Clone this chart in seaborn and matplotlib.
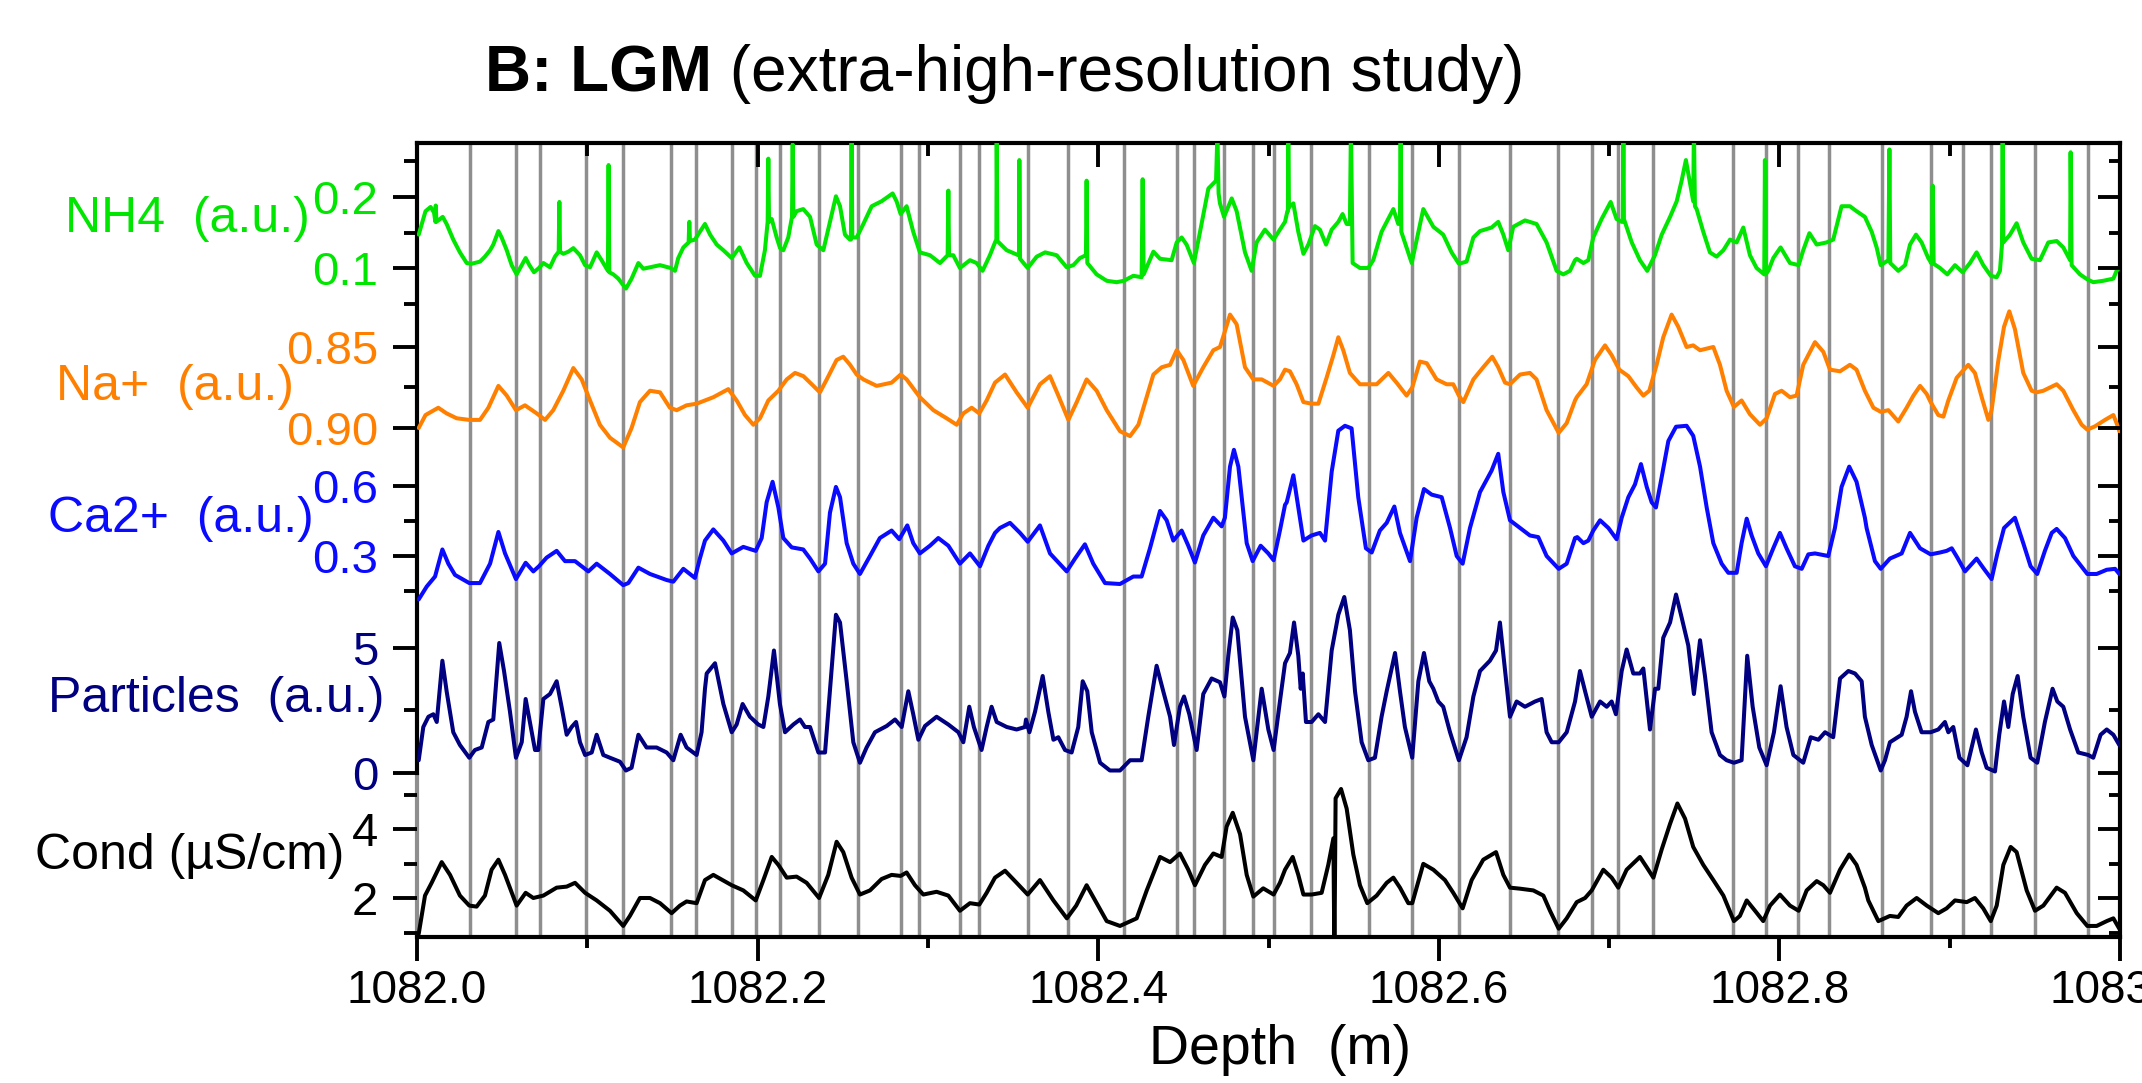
import matplotlib
matplotlib.use("Agg")
import numpy as np
import pandas as pd
import matplotlib.pyplot as plt
import seaborn as sns

# ---------------- data (depth offsets from 1082.0 m, values) ----------------
DEPTH0 = 1082.0

LAYER_MARKS = [0.031, 0.058, 0.072, 0.099, 0.121, 0.149, 0.164, 0.185, 0.199, 0.213,
               0.236, 0.259, 0.284, 0.295, 0.319, 0.330, 0.359, 0.382, 0.415, 0.446,
               0.456, 0.474, 0.491, 0.503, 0.525, 0.559, 0.584, 0.612, 0.642, 0.670,
               0.690, 0.705, 0.726, 0.773, 0.792, 0.811, 0.829, 0.860, 0.889, 0.908,
               0.924, 0.950, 0.981]

NH4 = [(0.001,0.147),(0.005,0.180),(0.008,0.186),(0.010,0.178),(0.0108,0.165),(0.0110,0.188),(0.0114,0.165),(0.0135,0.169),(0.0151,0.172),(0.0174,0.162),(0.0213,0.140),(0.0252,0.122),(0.0292,0.107),(0.0321,0.106),(0.0370,0.109),(0.0399,0.116),(0.0429,0.125),(0.0448,0.133),(0.0478,0.152),(0.0497,0.143),(0.0527,0.125),(0.0556,0.104),(0.0585,0.091),(0.0615,0.104),(0.0638,0.114),(0.0660,0.104),(0.0687,0.094),(0.0716,0.100),(0.0742,0.107),(0.0781,0.101),(0.0810,0.116),(0.0832,0.123),(0.0836,0.193),(0.0840,0.123),(0.0859,0.120),(0.0889,0.123),(0.0918,0.128),(0.0957,0.118),(0.0987,0.104),(0.1016,0.101),(0.1055,0.122),(0.1084,0.111),(0.1121,0.096),(0.1125,0.245),(0.1129,0.094),(0.1153,0.091),(0.1182,0.085),(0.1227,0.071),(0.1260,0.085),(0.1300,0.107),(0.1329,0.099),(0.1368,0.101),(0.1427,0.104),(0.1489,0.100),(0.1515,0.096),(0.1534,0.114),(0.1564,0.129),(0.1595,0.136),(0.1599,0.165),(0.1603,0.138),(0.1632,0.140),(0.1661,0.151),(0.1691,0.162),
       (0.1721,0.147),(0.1760,0.133),(0.1799,0.125),(0.1848,0.114),(0.1893,0.129),(0.1936,0.107),(0.1985,0.089),(0.2014,0.089),(0.2043,0.125),(0.2059,0.165),(0.2063,0.254),(0.2067,0.165),(0.2083,0.169),(0.2112,0.143),(0.2132,0.128),(0.2151,0.125),(0.2180,0.143),(0.2202,0.172),(0.2206,0.274),(0.2210,0.172),(0.2229,0.180),(0.2268,0.183),(0.2308,0.172),(0.2347,0.133),(0.2386,0.125),(0.2425,0.165),(0.2460,0.201),(0.2484,0.187),(0.2513,0.147),(0.2542,0.140),(0.2548,0.140),(0.2552,0.290),(0.2556,0.143),(0.2582,0.143),(0.2621,0.162),(0.2670,0.187),(0.2728,0.194),(0.2793,0.205),(0.2816,0.194),(0.2840,0.176),(0.2875,0.187),(0.2914,0.151),(0.2953,0.122),(0.3012,0.118),(0.3071,0.107),(0.3116,0.118),(0.3120,0.209),(0.3124,0.118),(0.3149,0.118),(0.3188,0.100),(0.3247,0.111),(0.3286,0.107),(0.3321,0.096),(0.3364,0.118),(0.3394,0.136),
       (0.3402,0.140),(0.3404,0.290),(0.3408,0.138),(0.3463,0.125),(0.3531,0.118),(0.3535,0.118),(0.3537,0.252),(0.3541,0.113),(0.3586,0.100),(0.3639,0.116),(0.3688,0.122),(0.3756,0.118),(0.3815,0.101),(0.3854,0.104),(0.3893,0.114),(0.3928,0.118),(0.3932,0.223),(0.3936,0.107),(0.3991,0.091),(0.4050,0.082),(0.4108,0.080),(0.4151,0.082),(0.4206,0.089),(0.4255,0.087),(0.4261,0.225),(0.4267,0.091),(0.4324,0.123),(0.4363,0.113),(0.4431,0.111),(0.4461,0.136),(0.4490,0.143),(0.4519,0.133),(0.4562,0.107),(0.4598,0.151),(0.4647,0.212),(0.4692,0.223),(0.4700,0.290),(0.4707,0.205),(0.4715,0.191),(0.4739,0.172),(0.4784,0.198),(0.4813,0.180),(0.4862,0.122),(0.4901,0.096),(0.4930,0.136),(0.4979,0.154),(0.5030,0.140),(0.5067,0.154),(0.5097,0.165),
       (0.5111,0.180),(0.5114,0.180),(0.5116,0.300),(0.5120,0.185),(0.5126,0.187),(0.5146,0.191),(0.5175,0.151),(0.5205,0.120),(0.5234,0.133),(0.5273,0.159),(0.5302,0.154),(0.5338,0.133),(0.5371,0.154),(0.5410,0.165),(0.5435,0.176),(0.5459,0.162),(0.5478,0.162),(0.5484,0.300),(0.5494,0.107),(0.5537,0.100),(0.5586,0.100),(0.5615,0.111),(0.5664,0.151),(0.5733,0.183),(0.5762,0.162),(0.5772,0.172),(0.5776,0.300),(0.5780,0.151),(0.5841,0.107),(0.5909,0.183),(0.5968,0.158),(0.6026,0.147),(0.6075,0.122),(0.6118,0.106),(0.6163,0.109),(0.6203,0.143),(0.6242,0.152),(0.6310,0.157),(0.6349,0.165),(0.6379,0.147),(0.6408,0.125),(0.6437,0.158),(0.6506,0.167),(0.6574,0.162),(0.6633,0.136),(0.6692,0.096),(0.6731,0.091),(0.6770,0.096),(0.6800,0.111),
       (0.6810,0.113),(0.6849,0.107),(0.6878,0.111),(0.6907,0.143),(0.6956,0.169),(0.7009,0.193),(0.7044,0.169),(0.7074,0.165),(0.7080,0.165),(0.7084,0.300),(0.7087,0.169),(0.7133,0.136),(0.7181,0.111),(0.7224,0.096),(0.7269,0.118),(0.7309,0.147),(0.7358,0.172),(0.7397,0.194),(0.7426,0.223),(0.7451,0.252),(0.7475,0.220),(0.7494,0.194),(0.7498,0.300),(0.7504,0.187),(0.7514,0.183),(0.7553,0.151),(0.7592,0.122),(0.7631,0.116),(0.7671,0.125),(0.7710,0.140),(0.7749,0.136),(0.7788,0.157),(0.7827,0.118),(0.7866,0.100),(0.7911,0.091),(0.7915,0.252),(0.7919,0.091),(0.7935,0.096),(0.7964,0.114),(0.8007,0.129),(0.8062,0.107),(0.8113,0.104),(0.8140,0.125),(0.8176,0.149),(0.8219,0.133),(0.8277,0.136),(0.8316,0.140),(0.8365,0.187),(0.8414,0.187),(0.8453,0.180),(0.8502,0.172),
       (0.8542,0.151),(0.8571,0.129),(0.8595,0.104),(0.8640,0.111),(0.8646,0.267),(0.8651,0.107),(0.8698,0.096),(0.8738,0.104),(0.8767,0.133),(0.8802,0.147),(0.8835,0.136),(0.8874,0.114),(0.8894,0.106),(0.8900,0.216),(0.8906,0.106),(0.8943,0.100),(0.8986,0.091),(0.9031,0.104),(0.9076,0.094),(0.9119,0.107),(0.9158,0.122),(0.9197,0.104),(0.9241,0.089),(0.9276,0.087),(0.9295,0.096),(0.9307,0.133),(0.9311,0.300),(0.9315,0.136),(0.9354,0.147),(0.9393,0.163),(0.9432,0.136),(0.9481,0.113),(0.9530,0.111),(0.9579,0.136),(0.9628,0.138),(0.9667,0.129),(0.9707,0.111),(0.9710,0.263),(0.9716,0.104),(0.9765,0.091),(0.9808,0.084),(0.9843,0.080),(0.9902,0.082),(0.9961,0.085),(0.9980,0.096),(0.9996,0.100)]

NA = [(0.001,0.900),(0.005,0.892),(0.0125,0.8875),(0.0174,0.891),(0.0233,0.894),(0.0307,0.895),(0.0370,0.895),(0.0419,0.8875),(0.0478,0.874),(0.0527,0.880),(0.0581,0.889),(0.0634,0.886),(0.0703,0.891),(0.0752,0.895),(0.0800,0.889),(0.0859,0.877),(0.0918,0.863),(0.0967,0.870),(0.1016,0.883),(0.1074,0.898),(0.1133,0.906),(0.1211,0.912),(0.1260,0.900),(0.1309,0.884),(0.1368,0.877),(0.1427,0.878),(0.1485,0.8875),(0.1525,0.889),(0.1583,0.886),(0.1642,0.885),(0.1691,0.883),
      (0.1740,0.881),(0.1828,0.876),(0.1877,0.883),(0.1926,0.892),(0.1975,0.898),(0.2014,0.894),(0.2063,0.883),(0.2122,0.877),(0.2171,0.870),(0.2220,0.866),(0.2269,0.868),(0.2318,0.873),(0.2366,0.878),(0.2406,0.870),(0.2464,0.858),(0.2503,0.856),(0.2543,0.861),(0.2582,0.867),(0.2621,0.870),(0.2699,0.874),(0.2787,0.872),(0.2840,0.867),(0.2875,0.870),(0.2953,0.881),(0.3032,0.889),(0.3110,0.894),(0.3169,0.898),(0.3208,0.891),(0.3257,0.8875),(0.3302,0.891),(0.3345,0.883),(0.3394,0.872),
      (0.3453,0.867),(0.3521,0.878),(0.3586,0.8875),(0.3658,0.873),(0.3717,0.868),(0.3766,0.880),(0.3825,0.895),(0.3874,0.884),(0.3932,0.870),(0.3991,0.877),(0.4050,0.889),(0.4128,0.902),(0.4187,0.905),(0.4236,0.898),(0.4324,0.867),(0.4373,0.8625),(0.4422,0.861),(0.4461,0.852),(0.4500,0.858),(0.4558,0.874),(0.4617,0.8625),(0.4676,0.852),(0.4715,0.850),(0.4739,0.842),(0.4774,0.830),(0.4813,0.836),(0.4862,0.8625),(0.4911,0.870),(0.4960,0.870),(0.5030,0.874),(0.5067,0.870),(0.5097,0.864),
      (0.5126,0.865),(0.5165,0.873),(0.5205,0.884),(0.5253,0.885),(0.5293,0.885),(0.5341,0.869),(0.5381,0.855),(0.5410,0.844),(0.5439,0.852),(0.5478,0.866),(0.5537,0.873),(0.5586,0.873),(0.5635,0.873),(0.5704,0.866),(0.5752,0.872),(0.5811,0.880),(0.5844,0.875),(0.5889,0.859),(0.5929,0.860),(0.5987,0.870),(0.6046,0.873),(0.6085,0.873),(0.6118,0.880),(0.6144,0.884),(0.6203,0.870),(0.6261,0.8625),(0.6314,0.856),(0.6349,0.8625),(0.6389,0.872),(0.6418,0.873),(0.6477,0.867),(0.6535,0.866),(0.6574,0.870),(0.6633,0.889),(0.6704,0.903),(0.6751,0.897),(0.6800,0.883),
      (0.6810,0.881),(0.6868,0.873),(0.6917,0.858),(0.6976,0.849),(0.7015,0.855),(0.7060,0.864),(0.7113,0.868),(0.7162,0.875),(0.7201,0.880),(0.7236,0.877),(0.7279,0.861),(0.7318,0.844),(0.7367,0.830),(0.7406,0.8375),(0.7455,0.850),(0.7494,0.849),(0.7534,0.852),(0.7573,0.851),(0.7612,0.850),(0.7651,0.861),(0.7690,0.877),(0.7733,0.887),(0.7778,0.883),(0.7827,0.8915),(0.7886,0.898),(0.7925,0.894),(0.7974,0.879),(0.8013,0.877),(0.8062,0.881),(0.8101,0.880),(0.8140,0.861),(0.8209,0.847),(0.8258,0.853),(0.8297,0.864),(0.8356,0.865),(0.8414,0.861),(0.8453,0.864),(0.8502,0.877),
      (0.8552,0.8875),(0.8595,0.890),(0.8640,0.889),(0.8698,0.896),(0.8747,0.8875),(0.8787,0.880),(0.8826,0.874),(0.8865,0.879),(0.8888,0.884),(0.8933,0.892),(0.8963,0.893),(0.8992,0.883),(0.9041,0.869),(0.9109,0.861),(0.9148,0.866),(0.9188,0.881),(0.9227,0.895),(0.9246,0.889),(0.9286,0.858),(0.9319,0.8375),(0.9350,0.828),(0.9383,0.839),(0.9432,0.866),(0.9481,0.877),(0.9510,0.878),(0.9550,0.877),(0.9628,0.873),(0.9667,0.877),(0.9726,0.889),(0.9775,0.898),(0.9808,0.901),(0.9853,0.899),(0.9912,0.895),(0.9961,0.892),(0.9980,0.897),(0.9996,0.902)]

CA = [(0.001,0.114),(0.0057,0.169),(0.0106,0.212),(0.0149,0.328),(0.0184,0.267),(0.0223,0.219),(0.0307,0.184),(0.0370,0.184),(0.0429,0.267),(0.0478,0.403),(0.0517,0.311),(0.0581,0.201),(0.0638,0.271),(0.0683,0.234),(0.0716,0.256),(0.0761,0.293),(0.0820,0.322),(0.0869,0.278),(0.0928,0.278),(0.0987,0.245),(0.1006,0.234),(0.1055,0.267),(0.1133,0.223),(0.1211,0.175),(0.1241,0.184),(0.1300,0.250),(0.1368,0.223),(0.1466,0.197),(0.1505,0.190),(0.1564,0.245),(0.1632,0.206),(0.1661,0.289),(0.1691,0.366),
      (0.1740,0.414),(0.1799,0.366),(0.1848,0.311),(0.1916,0.339),(0.1989,0.322),(0.2024,0.377),(0.2053,0.530),(0.2088,0.618),(0.2122,0.508),(0.2151,0.377),(0.2200,0.337),(0.2268,0.328),(0.2308,0.289),(0.2357,0.234),(0.2396,0.267),(0.2425,0.486),(0.2460,0.596),(0.2484,0.552),(0.2523,0.355),(0.2562,0.267),(0.2601,0.223),(0.2660,0.300),(0.2718,0.377),(0.2787,0.409),(0.2832,0.372),(0.2879,0.431),(0.2914,0.355),(0.2953,0.311),(0.3012,0.344),(0.3061,0.377),(0.3120,0.344),(0.3188,0.267),(0.3247,0.311),(0.3306,0.256),(0.3355,0.344),(0.3394,0.399),
      (0.3423,0.420),(0.3482,0.442),(0.3541,0.399),(0.3586,0.361),(0.3658,0.431),(0.3717,0.311),(0.3815,0.234),(0.3864,0.289),(0.3922,0.350),(0.3971,0.267),(0.4040,0.184),(0.4128,0.180),(0.4206,0.212),(0.4255,0.212),(0.4304,0.333),(0.4363,0.493),(0.4402,0.453),(0.4441,0.366),(0.4490,0.409),(0.4529,0.344),(0.4568,0.272),(0.4617,0.388),(0.4676,0.464),(0.4725,0.427),(0.4744,0.464),(0.4774,0.683),(0.4797,0.755),(0.4823,0.683),(0.4872,0.355),(0.4907,0.278),(0.4954,0.344),(0.4999,0.311),(0.5030,0.282),(0.5067,0.409),(0.5097,0.519),
      (0.5107,0.530),(0.5146,0.646),(0.5175,0.508),(0.5205,0.366),(0.5253,0.388),(0.5302,0.399),(0.5332,0.366),(0.5371,0.661),(0.5410,0.837),(0.5449,0.858),(0.5488,0.847),(0.5527,0.552),(0.5572,0.333),(0.5606,0.315),(0.5654,0.409),(0.5694,0.442),(0.5739,0.512),(0.5772,0.399),(0.5831,0.278),(0.5870,0.464),(0.5913,0.587),(0.5958,0.563),(0.6017,0.552),(0.6066,0.420),(0.6105,0.300),(0.6140,0.267),(0.6183,0.420),(0.6242,0.574),(0.6310,0.666),(0.6349,0.738),(0.6379,0.574),(0.6418,0.453),(0.6477,0.420),(0.6535,0.388),(0.6584,0.381),(0.6633,0.300),(0.6704,0.245),(0.6751,0.267),(0.6800,0.377),
      (0.6813,0.381),(0.6849,0.355),(0.6878,0.366),(0.6907,0.409),(0.6947,0.453),(0.6996,0.420),(0.7044,0.372),(0.7074,0.464),(0.7113,0.552),(0.7152,0.607),(0.7187,0.694),(0.7221,0.596),(0.7250,0.530),(0.7275,0.508),(0.7309,0.639),(0.7348,0.793),(0.7393,0.854),(0.7455,0.858),(0.7494,0.815),(0.7534,0.683),(0.7573,0.508),(0.7612,0.355),(0.7661,0.267),(0.7700,0.228),(0.7749,0.228),(0.7778,0.355),(0.7808,0.460),(0.7837,0.388),(0.7876,0.311),(0.7921,0.256),(0.7964,0.333),(0.8003,0.399),(0.8042,0.333),(0.8091,0.256),(0.8131,0.245),(0.8170,0.307),(0.8209,0.311),(0.8287,0.300),(0.8326,0.420),(0.8365,0.596),(0.8410,0.683),(0.8453,0.618),(0.8502,0.464),
      (0.8512,0.420),(0.8561,0.278),(0.8595,0.245),(0.8649,0.289),(0.8718,0.311),(0.8767,0.399),(0.8826,0.333),(0.8888,0.307),(0.8943,0.315),(0.8982,0.322),(0.9012,0.333),(0.9045,0.293),(0.9090,0.234),(0.9158,0.289),(0.9201,0.245),(0.9246,0.201),(0.9280,0.311),(0.9319,0.420),(0.9383,0.464),(0.9432,0.355),(0.9475,0.256),(0.9514,0.223),(0.9559,0.322),(0.9599,0.399),(0.9628,0.416),(0.9677,0.377),(0.9726,0.300),(0.9808,0.223),(0.9863,0.223),(0.9922,0.241),(0.9971,0.245),(0.9996,0.223)]

PARTICLES = [(0.001,0.51),(0.0037,1.84),(0.0067,2.25),(0.0096,2.35),(0.0116,2.04),(0.0149,4.49),(0.0174,3.27),(0.0213,1.63),(0.0252,1.12),(0.0307,0.61),(0.0340,0.92),(0.0380,1.02),(0.0419,2.04),(0.0448,2.14),(0.0483,5.20),(0.0511,4.08),(0.0546,2.45),(0.0581,0.61),(0.0615,1.23),(0.0638,2.96),(0.0663,2.04),(0.0693,0.92),(0.0712,0.92),(0.0742,2.96),(0.0781,3.16),(0.0820,3.67),(0.0849,2.65),(0.0879,1.53),(0.0908,1.84),(0.0934,2.04),(0.0957,1.23),(0.0987,0.72),(0.1026,0.82),(0.1055,1.53),(0.1094,0.72),(0.1133,0.61),(0.1192,0.45),(0.1227,0.10),(0.1260,0.21),(0.1300,1.53),(0.1348,1.02),(0.1407,1.02),(0.1466,0.82),(0.1505,0.51),(0.1548,1.53),(0.1583,1.02),(0.1642,0.72),(0.1671,1.63),(0.1691,3.37),
             (0.1701,3.98),(0.1750,4.39),(0.1799,2.76),(0.1848,1.63),(0.1877,1.94),(0.1912,2.76),(0.1955,2.25),(0.2004,1.94),(0.2034,1.84),(0.2063,3.06),(0.2096,4.90),(0.2131,2.76),(0.2161,1.63),(0.2210,1.94),(0.2249,2.14),(0.2278,1.84),(0.2308,1.84),(0.2357,0.82),(0.2396,0.82),(0.2429,3.67),(0.2460,6.33),(0.2484,6.02),(0.2523,3.67),(0.2562,1.23),(0.2601,0.41),(0.2640,1.02),(0.2689,1.63),(0.2758,1.88),(0.2807,2.14),(0.2846,1.84),(0.2885,3.27),(0.2914,2.35),(0.2944,1.33),(0.2983,1.88),(0.3051,2.25),(0.3120,1.94),(0.3179,1.63),(0.3208,1.23),(0.3243,2.65),(0.3270,1.84),(0.3315,0.92),(0.3345,1.84),(0.3374,2.65),(0.3394,2.25),
             (0.3404,2.04),(0.3463,1.84),(0.3521,1.74),(0.3570,1.84),(0.3576,2.14),(0.3596,1.63),(0.3629,2.45),(0.3674,3.88),(0.3707,2.45),(0.3737,1.33),(0.3766,1.43),(0.3805,0.92),(0.3844,0.82),(0.3883,1.84),(0.3909,3.67),(0.3936,3.27),(0.3962,1.63),(0.4011,0.41),(0.4069,0.10),(0.4128,0.10),(0.4187,0.51),(0.4255,0.51),(0.4294,2.25),(0.4343,4.29),(0.4382,3.27),(0.4422,2.25),(0.4445,1.12),(0.4480,2.65),(0.4504,3.06),(0.4535,2.35),(0.4578,0.92),(0.4617,3.16),(0.4666,3.78),(0.4715,3.63),(0.4741,3.06),(0.4764,4.69),(0.4790,6.22),(0.4817,5.71),(0.4862,2.25),(0.4911,0.51),(0.4960,3.37),(0.4999,1.74),(0.5030,0.92),(0.5067,2.86),(0.5097,4.39),
             (0.5126,4.80),(0.5150,6.02),(0.5175,4.69),(0.5189,3.37),(0.5201,3.98),(0.5220,2.04),(0.5253,2.04),(0.5293,2.35),(0.5332,2.04),(0.5371,4.90),(0.5410,6.33),(0.5445,7.04),(0.5478,5.71),(0.5508,3.27),(0.5547,1.23),(0.5586,0.51),(0.5625,0.61),(0.5664,2.25),(0.5694,3.27),(0.5743,4.80),(0.5772,3.27),(0.5801,1.84),(0.5844,0.61),(0.5880,3.67),(0.5913,4.80),(0.5944,3.67),(0.5968,3.37),(0.5997,2.86),(0.6026,2.65),(0.6066,1.63),(0.6118,0.51),(0.6163,1.43),(0.6203,3.06),(0.6242,4.08),(0.6300,4.49),(0.6336,4.90),(0.6359,6.02),(0.6383,4.49),(0.6418,2.25),(0.6457,2.86),(0.6506,2.65),(0.6565,2.86),(0.6604,2.96),(0.6633,1.63),(0.6663,1.23),(0.6704,1.23),(0.6751,1.63),(0.6800,2.86),
             (0.6829,4.08),(0.6859,3.27),(0.6898,2.25),(0.6947,2.86),(0.6986,2.65),(0.7015,2.86),(0.7040,2.35),(0.7074,4.08),(0.7103,4.94),(0.7142,3.98),(0.7181,3.98),(0.7201,4.18),(0.7240,1.74),(0.7270,3.37),(0.7289,3.37),(0.7318,5.41),(0.7358,6.02),(0.7393,7.14),(0.7426,6.22),(0.7465,5.10),(0.7498,3.16),(0.7534,5.31),(0.7563,3.88),(0.7602,1.63),(0.7651,0.72),(0.7690,0.51),(0.7733,0.41),(0.7778,0.51),(0.7811,4.69),(0.7843,2.65),(0.7882,1.02),(0.7925,0.31),(0.7968,1.63),(0.8007,3.47),(0.8042,1.84),(0.8082,0.72),(0.8140,0.41),(0.8184,1.43),(0.8229,1.33),(0.8268,1.63),(0.8316,1.43),(0.8356,3.78),(0.8405,4.08),(0.8444,3.98),(0.8483,3.67),(0.8502,2.25),
             (0.8542,1.12),(0.8595,0.10),(0.8620,0.51),(0.8649,1.23),(0.8718,1.53),(0.8747,2.25),(0.8773,3.27),(0.8796,2.45),(0.8835,1.63),(0.8888,1.63),(0.8933,1.74),(0.8972,2.04),(0.8992,1.63),(0.9021,1.84),(0.9057,0.61),(0.9104,0.31),(0.9154,1.74),(0.9188,0.82),(0.9217,0.21),(0.9266,0.06),(0.9291,1.53),(0.9319,2.86),(0.9344,1.84),(0.9370,3.16),(0.9399,3.88),(0.9432,2.25),(0.9475,0.61),(0.9514,0.41),(0.9559,2.04),(0.9604,3.37),(0.9632,2.86),(0.9667,2.65),(0.9707,1.74),(0.9755,0.82),(0.9814,0.72),(0.9843,0.61),(0.9886,1.53),(0.9922,1.74),(0.9961,1.53),(0.9996,1.12)]

COND = [(0.001,0.96),(0.0047,2.07),(0.0086,2.44),(0.0145,3.04),(0.0194,2.67),(0.0252,2.07),(0.0307,1.78),(0.0350,1.75),(0.0399,2.07),(0.0438,2.82),(0.0478,3.11),(0.0517,2.67),(0.0585,1.78),(0.0638,2.15),(0.0683,2.00),(0.0742,2.07),(0.0820,2.30),(0.0879,2.33),(0.0928,2.44),(0.0987,2.15),(0.1055,1.93),(0.1133,1.63),(0.1211,1.19),(0.1250,1.48),(0.1309,2.00),(0.1368,2.00),(0.1427,1.85),(0.1495,1.56),(0.1544,1.78),(0.1583,1.90),(0.1642,1.85),(0.1691,2.52),
        (0.1740,2.67),(0.1848,2.37),(0.1916,2.22),(0.1989,1.93),(0.2034,2.52),(0.2083,3.19),(0.2122,2.96),(0.2171,2.59),(0.2229,2.62),(0.2288,2.44),(0.2361,2.00),(0.2415,2.67),(0.2464,3.63),(0.2503,3.33),(0.2552,2.59),(0.2601,2.10),(0.2660,2.22),(0.2728,2.55),(0.2787,2.67),(0.2840,2.64),(0.2875,2.74),(0.2924,2.37),(0.2973,2.10),(0.3051,2.18),(0.3120,2.07),(0.3188,1.63),(0.3247,1.85),(0.3302,1.81),(0.3345,2.15),(0.3394,2.59),
        (0.3453,2.79),(0.3521,2.44),(0.3586,2.10),(0.3658,2.52),(0.3737,1.93),(0.3816,1.41),(0.3871,1.78),(0.3932,2.37),(0.3991,1.85),(0.4050,1.33),(0.4128,1.19),(0.4226,1.41),(0.4285,2.22),(0.4363,3.19),(0.4422,3.04),(0.4480,3.29),(0.4529,2.82),(0.4568,2.37),(0.4627,2.96),(0.4676,3.29),(0.4725,3.19),(0.4754,4.07),(0.4790,4.47),(0.4833,3.85),(0.4872,2.67),(0.4911,2.04),(0.4969,2.28),(0.5030,2.10),(0.5067,2.44),(0.5097,2.82),
        (0.5142,3.19),(0.5175,2.67),(0.5205,2.10),(0.5253,2.10),(0.5312,2.15),(0.5351,2.96),(0.5381,3.73),(0.5387,0.30),(0.5394,4.89),(0.5426,5.16),(0.5459,4.59),(0.5498,3.26),(0.5537,2.37),(0.5580,1.85),(0.5635,2.07),(0.5694,2.44),(0.5733,2.59),(0.5772,2.30),(0.5821,1.85),(0.5844,1.85),(0.5909,2.99),(0.5968,2.82),(0.6036,2.52),(0.6085,2.15),(0.6140,1.70),(0.6193,2.52),(0.6261,3.11),(0.6336,3.33),(0.6379,2.67),(0.6418,2.30),(0.6477,2.27),(0.6555,2.22),(0.6614,2.07),(0.6653,1.63),(0.6704,1.11),(0.6751,1.41),
        (0.6810,1.88),(0.6859,2.00),(0.6898,2.22),(0.6966,2.82),(0.7015,2.59),(0.7054,2.30),(0.7103,2.82),(0.7181,3.19),(0.7221,2.89),(0.7260,2.59),(0.7309,3.41),(0.7358,4.15),(0.7401,4.74),(0.7446,4.30),(0.7494,3.48),(0.7553,2.96),(0.7612,2.52),(0.7671,2.07),(0.7733,1.33),(0.7768,1.48),(0.7808,1.93),(0.7857,1.63),(0.7905,1.33),(0.7945,1.78),(0.8003,2.10),(0.8062,1.78),(0.8113,1.63),(0.8160,2.22),(0.8219,2.49),(0.8258,2.37),(0.8297,2.15),(0.8356,2.82),(0.8410,3.26),(0.8453,2.96),(0.8502,2.30),
        (0.8522,1.93),(0.8581,1.33),(0.8649,1.48),(0.8698,1.45),(0.8747,1.78),(0.8806,2.00),(0.8865,1.78),(0.8933,1.56),(0.8982,1.70),(0.9031,1.93),(0.9100,1.88),(0.9148,2.00),(0.9197,1.70),(0.9241,1.33),(0.9276,1.78),(0.9315,2.96),(0.9358,3.48),(0.9393,3.33),(0.9452,2.22),(0.9501,1.63),(0.9550,1.78),(0.9628,2.30),(0.9677,2.15),(0.9746,1.56),(0.9808,1.19),(0.9863,1.19),(0.9922,1.33),(0.9961,1.41),(0.9996,1.11)]

X_MAJOR = [1082.0, 1082.2, 1082.4, 1082.6, 1082.8, 1083.0]
X_MAJOR_LABELS = ["1082.0", "1082.2", "1082.4", "1082.6", "1082.8", "1083.0"]
X_MINOR = [1082.1, 1082.3, 1082.5, 1082.7, 1082.9]

# ---------------- layout (pixels of the 2142x1083 canvas) ----------------
W, H = 2142, 1083
L, R, T, B = 417, 2120, 143, 937

sns.set_theme(style="ticks")
plt.rcParams['font.family'] = ['Liberation Sans', 'DejaVu Sans']

SERIES = [
    dict(name="NH4  (a.u.)", pts=NH4, color="#00e600",
         major=[0.2, 0.1], labels=["0.2", "0.1"], minor=[0.25, 0.15, 0.05],
         anchor=((0.2, 197), (0.1, 268)), lab=(310, 219)),
    dict(name="Na+  (a.u.)", pts=NA, color="#ff8000",
         major=[0.85, 0.90], labels=["0.85", "0.90"], minor=[0.875],
         anchor=((0.85, 347), (0.90, 428)), lab=(294, 387)),
    dict(name="Ca2+  (a.u.)", pts=CA, color="#0a0aff",
         major=[0.6, 0.3], labels=["0.6", "0.3"], minor=[0.45, 0.15],
         anchor=((0.6, 486), (0.3, 556)), lab=(314, 519)),
    dict(name="Particles  (a.u.)", pts=PARTICLES, color="#000080",
         major=[5, 0], labels=["5", "0"], minor=[2.5],
         anchor=((5, 648), (0, 773)), lab=(385, 699)),
    dict(name="Cond (\u00b5S/cm)", pts=COND, color="#000000",
         major=[4, 2], labels=["4", "2"], minor=[5, 3, 1],
         anchor=((4, 829), (2, 898)), lab=(344, 856)),
]

def ylim_from(anchor):
    (v1, y1), (v2, y2) = anchor
    f1 = (B - y1) / (B - T)
    f2 = (B - y2) / (B - T)
    k = (v2 - v1) / (f2 - f1)
    return v1 - k * f1, v1 + k * (1 - f1)

fig = plt.figure(figsize=(W / 100, H / 100), dpi=100)
rect = [L / W, 1 - B / H, (R - L) / W, (B - T) / H]

ax = fig.add_axes(rect)
ax.set_ylim(0, 1)
ax.set_yticks([])
ax.grid(False)
ax.set_facecolor("white")
for s in ax.spines.values():
    s.set_linewidth(3)
    s.set_color("black")
    s.set_visible(True)
# left spine black only down to the Particles zero line, gray below
f_zero = (B - 773) / (B - T)
ax.spines['left'].set_bounds(f_zero, 1)
GRAY = "#8e8e8e"
for d in LAYER_MARKS:
    ax.axvline(DEPTH0 + d, color=GRAY, lw=2.5, zorder=1)
ax.axvline(DEPTH0, ymin=0, ymax=f_zero, color=GRAY, lw=3, zorder=1, clip_on=False)

ax.set_xticks(X_MAJOR, labels=X_MAJOR_LABELS)
ax.set_xticks(X_MINOR, minor=True)
ax.tick_params(axis='x', which='both', bottom=True, top=False, direction='out',
               color='black', width=2.8, labelsize=33, pad=6, labelcolor='black')
ax.tick_params(axis='x', which='major', length=17)
ax.tick_params(axis='x', which='minor', length=8)
ax.tick_params(axis='y', left=False, right=False)

def overlay():
    a = fig.add_axes(rect, sharex=ax)
    a.patch.set_visible(False)
    for s in a.spines.values():
        s.set_visible(False)
    a.grid(False)
    a.tick_params(axis='x', which='both', bottom=False, top=False,
                  labelbottom=False, labeltop=False)
    return a

# top ticks (inward)
tax = overlay()
tax.set_yticks([])
tax.tick_params(axis='y', left=False, right=False, labelleft=False)
tax.tick_params(axis='x', which='both', top=True, bottom=False, direction='in',
                color='black', width=2.8, labeltop=False, labelbottom=False)
tax.tick_params(axis='x', which='major', length=17)
tax.tick_params(axis='x', which='minor', length=9)

for sdef in SERIES:
    pts = np.array(sdef["pts"], dtype=float)
    df = pd.DataFrame({"depth": DEPTH0 + pts[:, 0], "value": pts[:, 1]})
    lo, hi = ylim_from(sdef["anchor"])

    sax = overlay()
    sns.lineplot(data=df, x="depth", y="value", ax=sax, color=sdef["color"],
                 linewidth=2.9, estimator=None, sort=False, legend=False,
                 solid_joinstyle="round", solid_capstyle="round")
    sax.set_xlabel("")
    sax.set_ylabel("")
    sax.set_ylim(lo, hi)
    sax.set_yticks(sdef["major"], labels=sdef["labels"])
    sax.set_yticks(sdef["minor"], minor=True)
    sax.tick_params(axis='y', which='both', left=True, right=False, labelleft=True,
                    labelright=False, direction='out', color='black', width=2.8)
    sax.tick_params(axis='y', which='major', length=17, labelsize=34,
                    labelcolor=sdef["color"], pad=11)
    sax.tick_params(axis='y', which='minor', length=9.5)

    rax = overlay()
    rax.set_ylim(lo, hi)
    rax.set_yticks(sdef["major"])
    rax.set_yticks(sdef["minor"], minor=True)
    rax.tick_params(axis='y', which='both', left=False, right=True, labelleft=False,
                    labelright=False, direction='in', color='black', width=2.8)
    rax.tick_params(axis='y', which='major', length=16)
    rax.tick_params(axis='y', which='minor', length=8)

    xr, yc = sdef["lab"]
    fig.text(xr / W, 1 - yc / H, sdef["name"], ha='right', va='center',
             fontsize=36, color=sdef["color"])

ax.set_xlim(1082.0, 1083.0)

# axis label
fig.text(1280 / W, 1 - 1064 / H, "Depth  (m)", ha='center', va='baseline',
         fontsize=40, color='black')

# title: bold part + regular part
t1 = fig.text(485 / W, 1 - 91 / H, "B: LGM", fontsize=46, fontweight='bold',
              ha='left', va='baseline', color='black')
fig.canvas.draw()
bb = t1.get_window_extent()
fig.text(bb.x1 / W, 1 - 91 / H, " (extra-high-resolution study)", fontsize=46,
         ha='left', va='baseline', color='black')

fig.savefig("out.png", dpi=100)
